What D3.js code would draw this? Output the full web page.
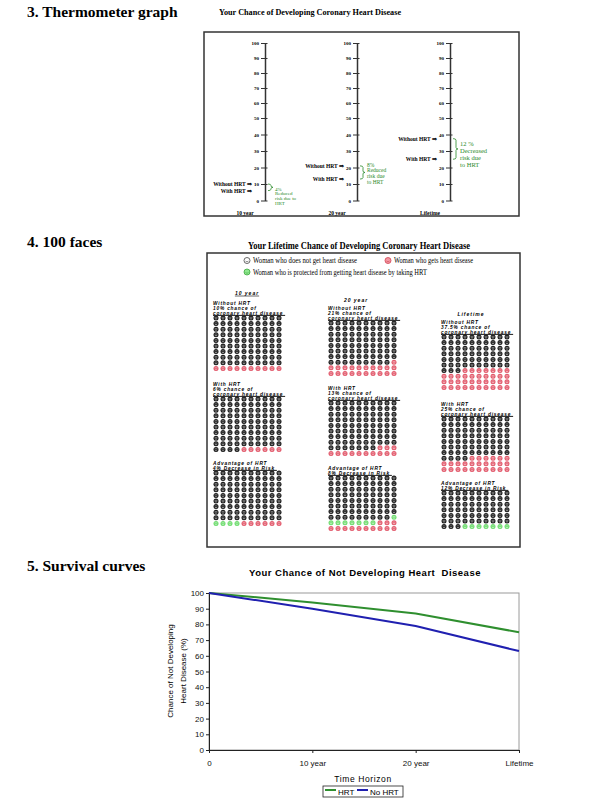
<!DOCTYPE html>
<html>
<head>
<meta charset="utf-8">
<script src="https://cdn.jsdelivr.net/npm/d3@7.9.0/dist/d3.min.js"></script>
<style>
  body { margin: 0; background: #fff; }
  svg { display: block; }
  .serif { font-family: "Liberation Serif", "Times New Roman", serif; }
  .sans { font-family: "Liberation Sans", Arial, sans-serif; }
</style>
</head>
<body>
<svg id="page" width="600" height="800"></svg>
<script>
// ---- data ----
const horizons = ['10 year', '20 year', 'Lifetime'];
const riskNoHRT = [10, 21, 37.5];
const riskHRT = [6, 13, 25];
const thermoTicks = d3.range(0, 101, 10);
const bracketNotes = [
  ['4%', 'Reduced', 'risk due to', 'HRT'],
  ['8%', 'Reduced', 'risk due', 'to HRT'],
  ['12 %', 'Decreased', 'risk due', 'to HRT']
];

// 100 faces
const legendItems = [
  'Woman who does not get heart disease',
  'Woman who gets heart disease',
  'Woman who is protected from getting heart disease by taking HRT'
];
const blockTitles = ['Without HRT', 'With HRT', 'Advantage of HRT'];
const blockChance = [
  ['10% chance of', '6% chance of', '4% Decrease in Risk'],
  ['21% chance of', '13% chance of', '8% Decrease in Risk'],
  ['37.5% chance of', '25% chance of', '12% Decrease in Risk']
];
const redFaces = [[10, 6, 6], [21, 13, 13], [37, 26, 0]];
const greenFaces = [[0, 0, 4], [0, 0, 8], [0, 0, 7]];
const faceRows = [[10, 10, 10], [10, 10, 10], [10, 10, 7]];

// survival curves
const timeLabels = ['0', '10 year', '20 year', 'Lifetime'];
const survivalHRT = [100, 94, 87, 75];
const survivalNoHRT = [100, 90, 79, 63];
const survivalTicks = d3.range(0, 101, 10);

const GREEN_TXT = '#2a8a2a';
const svg = d3.select('#page');

// section headings
const headings = svg.append('g').attr('class', 'serif')
  .attr('font-weight', 'bold').attr('font-size', 15.5);
headings.append('text').attr('x', 27).attr('y', 17).text('3. Thermometer graph');
headings.append('text').attr('x', 27).attr('y', 247).text('4. 100 faces');
headings.append('text').attr('x', 27).attr('y', 571).text('5. Survival curves');

// ================= 3. Thermometer =================
const thermo = svg.append('g').attr('class', 'serif');
thermo.append('text')
  .attr('x', 310).attr('y', 15).attr('text-anchor', 'middle')
  .attr('font-weight', 'bold').attr('font-size', 8.2)
  .text('Your Chance of Developing Coronary Heart Disease');

thermo.append('rect')
  .attr('x', 204).attr('y', 32).attr('width', 315).attr('height', 184)
  .attr('fill', 'none').attr('stroke', '#333').attr('stroke-width', 1.5);

// the scan is a bit squeezed above 50, so use a two-piece scale
const yT = d3.scaleLinear().domain([0, 50, 100]).range([200.5, 118, 43]);
const axisX = [265, 357, 450];
const noteDy = [5, -1, 5.5];
const noteLh = [4.7, 5.7, 7];
const noteSize = [5, 5.5, 6.5];

horizons.forEach((h, i) => {
  const g = thermo.append('g').attr('transform', `translate(${axisX[i]},0)`);

  const ax = g.append('g')
    .call(d3.axisLeft(yT).tickValues(thermoTicks).tickSizeInner(4).tickSizeOuter(0).tickPadding(2));
  ax.select('.domain').attr('stroke', '#333').attr('stroke-width', 1.5);
  ax.selectAll('.tick line').attr('x1', 2.5).attr('stroke', '#333');
  ax.selectAll('.tick text')
    .attr('font-family', '"Liberation Serif", serif')
    .attr('font-weight', 'bold').attr('font-size', 5);

  g.append('text')
    .attr('x', -20).attr('y', 215).attr('text-anchor', 'middle')
    .attr('font-weight', 'bold').attr('font-size', 5.5)
    .text(h);

  const y1 = yT(riskNoHRT[i]);
  const y2 = yT(riskHRT[i]);
  const lab = g.append('g').attr('font-weight', 'bold').attr('font-size', 5.5)
    .attr('text-anchor', 'end');
  lab.append('text').attr('x', -13).attr('y', y1).attr('dy', '0.35em').text('Without HRT ⇒');
  lab.append('text').attr('x', -13).attr('y', y2).attr('dy', '0.35em').text('With HRT ⇒');

  // curly bracket between the two risks
  const ym = (y1 + y2) / 2;
  g.append('path')
    .attr('d', `M3,${y1} Q6,${y1} 6,${y1 + 1.5} L6,${ym - 1.5} Q6,${ym} 8,${ym}
                Q6,${ym} 6,${ym + 1.5} L6,${y2 - 1.5} Q6,${y2} 3,${y2}`)
    .attr('fill', 'none').attr('stroke', GREEN_TXT).attr('stroke-width', 0.8);

  g.append('g').attr('fill', GREEN_TXT).attr('font-size', noteSize[i])
    .selectAll('text').data(bracketNotes[i]).join('text')
    .attr('x', 10)
    .attr('y', (d, k) => y1 + noteDy[i] + k * noteLh[i])
    .attr('dy', '0.35em')
    .text(d => d);
});

// ================= 4. 100 faces =================
const faces = svg.append('g');
faces.append('text').attr('class', 'serif')
  .attr('x', 248).attr('y', 249)
  .attr('font-weight', 'bold').attr('font-size', 10.5)
  .attr('textLength', 222).attr('lengthAdjust', 'spacingAndGlyphs')
  .text('Your Lifetime Chance of Developing Coronary Heart Disease');

faces.append('rect')
  .attr('x', 207).attr('y', 253).attr('width', 313).attr('height', 294)
  .attr('fill', 'none').attr('stroke', '#333').attr('stroke-width', 1.5);

const faceFill = ['#1c1c1c', '#6fdc6f', '#e25a6c'];

function drawFace(sel, cx, cy, r, type) {
  const f = sel.append('g').attr('transform', `translate(${cx},${cy})`);
  f.append('circle').attr('r', r).attr('fill', faceFill[type]);
  f.append('circle').attr('cx', -r * 0.35).attr('cy', -r * 0.3).attr('r', r * 0.18).attr('fill', '#fff');
  f.append('circle').attr('cx', r * 0.35).attr('cy', -r * 0.3).attr('r', r * 0.18).attr('fill', '#fff');
  f.append('path')
    .attr('d', `M${-r * 0.5},${r * 0.15} Q0,${r * 0.75} ${r * 0.5},${r * 0.15}`)
    .attr('fill', 'none').attr('stroke', '#fff').attr('stroke-width', r * 0.2);
}

// legend
const legendPos = [[247, 260.5, 104], [388, 260.5, 79], [247, 272, 174]];
const legendIcon = [['#fff', '#444'], ['#f39aa4', '#d04050'], ['#8ee88e', '#3fa83f']];
legendItems.forEach((t, i) => {
  const [x, y, w] = legendPos[i];
  const ic = faces.append('g').attr('transform', `translate(${x},${y})`);
  ic.append('circle').attr('r', 3).attr('fill', legendIcon[i][0])
    .attr('stroke', legendIcon[i][1]).attr('stroke-width', 0.8);
  ic.append('path').attr('d', 'M-1.5,0.6 Q0,2 1.5,0.6')
    .attr('fill', 'none').attr('stroke', legendIcon[i][1]).attr('stroke-width', 0.6);
  faces.append('text').attr('class', 'serif')
    .attr('x', x + 6).attr('y', y + 2.5).attr('font-size', 7.5)
    .attr('textLength', w).attr('lengthAdjust', 'spacingAndGlyphs')
    .text(t);
});

const colTextX = [213, 328, 441];
const colLabelPos = [[247, 293], [356, 300], [471, 314]];
const blockTop = [[318, 399, 473], [323, 403, 478], [337, 419, 493]];
const dx = 7, dy = 5.6, fr = 2.5;

horizons.forEach((h, i) => {
  const cl = faces.append('text').attr('class', 'sans')
    .attr('x', colLabelPos[i][0]).attr('y', colLabelPos[i][1] + 1.8)
    .attr('text-anchor', 'middle').attr('font-weight', 'bold')
    .attr('font-size', 5).attr('letter-spacing', 1).attr('font-style', 'italic')
    .text(h);
  if (i === 0) {
    const w = cl.node().getComputedTextLength();
    faces.append('line')
      .attr('x1', colLabelPos[i][0] - w / 2).attr('x2', colLabelPos[i][0] + w / 2)
      .attr('y1', colLabelPos[i][1] + 3).attr('y2', colLabelPos[i][1] + 3)
      .attr('stroke', '#000').attr('stroke-width', 0.6);
  }

  blockTitles.forEach((bt, j) => {
    const top = blockTop[i][j];
    const lines = j < 2 ? [bt, blockChance[i][j], 'coronary heart disease'] : [bt, blockChance[i][j]];
    let last;
    lines.forEach((t, k) => {
      last = faces.append('text').attr('class', 'sans')
        .attr('x', colTextX[i])
        .attr('y', top - 4.5 - (lines.length - 1 - k) * 5 + 1.7)
        .attr('font-weight', 'bold').attr('font-style', 'italic')
        .attr('font-size', 4.8).attr('letter-spacing', 0.8)
        .text(t);
    });
    const w = last.node().getComputedTextLength();
    faces.append('line')
      .attr('x1', colTextX[i]).attr('x2', colTextX[i] + w + 2)
      .attr('y1', top - 2.6).attr('y2', top - 2.6)
      .attr('stroke', '#000').attr('stroke-width', 0.9);

    const n = faceRows[i][j] * 10;
    const nRed = redFaces[i][j];
    const nGreen = greenFaces[i][j];
    const grid = faces.append('g');
    d3.range(n).forEach(k => {
      const type = k < n - nRed - nGreen ? 0 : (k < n - nRed ? 1 : 2);
      drawFace(grid, colTextX[i] + 3 + (k % 10) * dx, top + Math.floor(k / 10) * dy, fr, type);
    });
  });
});

// ================= 5. Survival curves =================
const surv = svg.append('g').attr('class', 'sans');
surv.append('text')
  .attr('x', 365).attr('y', 576).attr('text-anchor', 'middle')
  .attr('font-weight', 'bold').attr('font-size', 9.5).attr('letter-spacing', 0.5)
  .text('Your Chance of Not Developing Heart  Disease')
  .style('white-space', 'pre');

const xS = d3.scalePoint().domain(timeLabels).range([209, 519]);
const yS = d3.scaleLinear().domain([0, 100]).range([750, 593]);

surv.append('rect')
  .attr('x', 209).attr('y', 593).attr('width', 310).attr('height', 157)
  .attr('fill', 'none').attr('stroke', '#9a9a9a').attr('stroke-width', 1);

const yAx = surv.append('g').attr('transform', 'translate(209,0)')
  .call(d3.axisLeft(yS).tickValues(survivalTicks).tickSizeInner(3).tickSizeOuter(0).tickPadding(2));
const xAx = surv.append('g').attr('transform', 'translate(0,750)')
  .call(d3.axisBottom(xS).tickSizeInner(3).tickSizeOuter(0).tickPadding(7));
[yAx, xAx].forEach(a => {
  a.select('.domain').attr('stroke', '#222');
  a.selectAll('.tick line').attr('stroke', '#222');
  a.selectAll('.tick text').attr('font-family', '"Liberation Sans", Arial, sans-serif')
    .attr('font-size', 8).attr('fill', '#111');
});

const line = d3.line()
  .x((d, k) => xS(timeLabels[k]))
  .y(d => yS(d));
surv.append('path').datum(survivalHRT).attr('d', line)
  .attr('fill', 'none').attr('stroke', '#2f8f2f').attr('stroke-width', 2);
surv.append('path').datum(survivalNoHRT).attr('d', line)
  .attr('fill', 'none').attr('stroke', '#2020b0').attr('stroke-width', 2);

const yTitle = surv.append('g').attr('font-size', 8)
  .attr('transform', 'translate(0,671) rotate(-90)').attr('text-anchor', 'middle');
yTitle.append('text').attr('x', 0).attr('y', 173).text('Chance of Not Developing');
yTitle.append('text').attr('x', 0).attr('y', 186).text('Heart Disease (%)');

surv.append('text')
  .attr('x', 363).attr('y', 782).attr('text-anchor', 'middle')
  .attr('font-size', 8.5).attr('letter-spacing', 0.6)
  .text('Time Horizon');

// legend
const lg = surv.append('g');
lg.append('rect').attr('x', 323).attr('y', 786).attr('width', 80).attr('height', 11)
  .attr('fill', '#fff').attr('stroke', '#222').attr('stroke-width', 0.8);
const legendSeries = [['HRT', '#2f8f2f', 325], ['No HRT', '#2020b0', 357]];
legendSeries.forEach(([name, col, x]) => {
  lg.append('line').attr('x1', x).attr('x2', x + 11).attr('y1', 790).attr('y2', 790)
    .attr('stroke', col).attr('stroke-width', 2);
  lg.append('text').attr('x', x + 13).attr('y', 795).attr('font-size', 8).text(name);
});
</script>
</body>
</html>
